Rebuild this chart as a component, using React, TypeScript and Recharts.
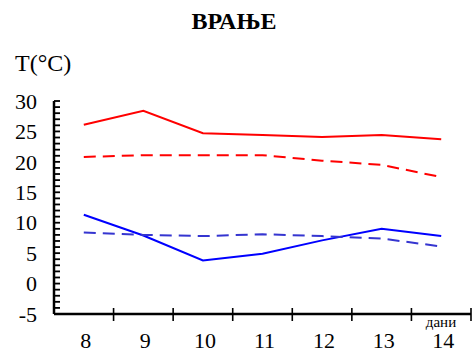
import React from "react";
import { LineChart, Line, XAxis, YAxis } from "recharts";

const days = [8, 9, 10, 11, 12, 13, 14];
const maxTemp = [26.1, 28.4, 24.7, 24.4, 24.1, 24.4, 23.7];
const maxNormal = [20.8, 21.1, 21.1, 21.1, 20.2, 19.5, 17.5];
const minTemp = [11.3, 7.9, 3.8, 4.9, 7.1, 9.0, 7.8];
const minNormal = [8.4, 8.0, 7.8, 8.1, 7.8, 7.4, 6.1];
const yLabelTicks = [-5, 0, 5, 10, 15, 20, 25, 30];
const yMin = -5;
const yMax = 30;
const yMinorTicks = Array.from({ length: yMax - yMin + 1 }, (_, i) => yMin + i);

const title = "ВРАЊЕ";
const yTitle = "T(°C)";
const xTitle = "дани";

const data = days.map((d, i) => ({
  day: d,
  maxTemp: maxTemp[i],
  maxNormal: maxNormal[i],
  minTemp: minTemp[i],
  minNormal: minNormal[i],
}));

const W = 472;
const H = 353;
const margin = { top: 101, right: 1, bottom: 0, left: 0 };
const yAxisW = 54;
const xAxisH = 39;
const plotW = W - margin.left - margin.right - yAxisW;
const halfBand = plotW / days.length / 2;
const FONT = "Times New Roman";
const fs = (size: number, bold = false): React.CSSProperties => ({
  fontFamily: FONT,
  fontSize: size,
  fontWeight: bold ? 700 : 400,
});

const XTick = (props: any) => {
  const { x, y, payload } = props;
  return (
    <g>
      <line x1={x + halfBand} y1={y - 6} x2={x + halfBand} y2={y + 7} stroke="#000" strokeWidth={1.6} />
      <text x={x + 2} y={y + 34} textAnchor="middle" style={fs(22)} fill="#000">
        {payload.value}
      </text>
    </g>
  );
};

const YTick = (props: any) => {
  const { x, y, payload } = props;
  const v = payload.value;
  const major = yLabelTicks.includes(v);
  return (
    <g>
      <line x1={x} y1={y} x2={x + 6} y2={y} stroke="#000" strokeWidth={1.8} />
      {major && (
        <text x={x - 17} y={y} dy="0.35em" textAnchor="end" style={fs(22)} fill="#000">
          {v}
        </text>
      )}
    </g>
  );
};

export default function App() {
  return (
    <div style={{ position: "absolute", left: 0, top: 0, width: W, height: H, background: "#fff", fontFamily: FONT }}>
      <LineChart width={W} height={H} data={data} margin={margin}>
        <XAxis
          dataKey="day"
          type="number"
          domain={[days[0] - 0.5, days[days.length - 1] + 0.5]}
          ticks={days}
          interval={0}
          height={xAxisH}
          tickSize={0}
          tickMargin={0}
          tickLine={false}
          axisLine={{ stroke: "#000", strokeWidth: 2.5 }}
          tick={<XTick />}
        />
        <YAxis
          type="number"
          domain={[yMin, yMax]}
          ticks={yMinorTicks}
          interval={0}
          width={yAxisW}
          tickSize={0}
          tickMargin={0}
          tickLine={false}
          axisLine={{ stroke: "#000", strokeWidth: 2.5 }}
          tick={<YTick />}
        />
        <Line dataKey="maxTemp" stroke="#ff0000" strokeWidth={2} dot={false} isAnimationActive={false} />
        <Line dataKey="maxNormal" stroke="#ff0000" strokeWidth={2} strokeDasharray="12 7" dot={false} isAnimationActive={false} />
        <Line dataKey="minTemp" stroke="#0000ff" strokeWidth={2} dot={false} isAnimationActive={false} />
        <Line dataKey="minNormal" stroke="#3535d0" strokeWidth={2} strokeDasharray="12 7" dot={false} isAnimationActive={false} />
      </LineChart>
      <svg width={W} height={H} style={{ position: "absolute", left: 0, top: 0, pointerEvents: "none" }}>
        <text x={234} y={28.5} textAnchor="middle" style={fs(24, true)} fill="#000">
          {title}
        </text>
        <text x={15} y={71} textAnchor="start" style={fs(24)} fill="#000">
          {yTitle}
        </text>
        <text x={441} y={326.5} textAnchor="middle" style={fs(15)} fill="#000">
          {xTitle}
        </text>
      </svg>
    </div>
  );
}
